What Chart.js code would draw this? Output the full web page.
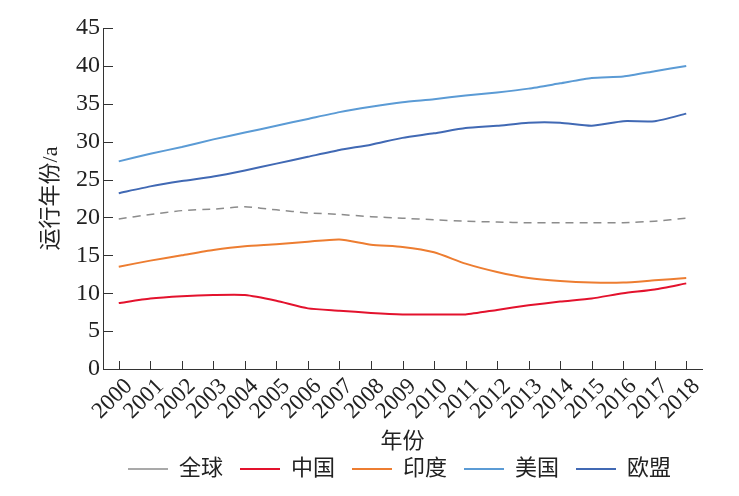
<!DOCTYPE html>
<html>
<head>
<meta charset="utf-8">
<script src="https://cdn.jsdelivr.net/npm/chart.js@4.4.1/dist/chart.umd.min.js"></script>
<style>
  html, body { margin: 0; padding: 0; background: #fff; }
  #chart { display: block; }
</style>
</head>
<body>
<canvas id="chart" width="739" height="496"></canvas>
<script>
// Data
const years = ['2000','2001','2002','2003','2004','2005','2006','2007','2008','2009',
               '2010','2011','2012','2013','2014','2015','2016','2017','2018'];
const yTicks = [0, 5, 10, 15, 20, 25, 30, 35, 40, 45];

const globalYears = [19.8, 20.4, 20.9, 21.1, 21.4, 21.0, 20.6, 20.4, 20.1, 19.9,
                     19.7, 19.5, 19.4, 19.3, 19.3, 19.3, 19.3, 19.5, 19.9];
const chinaYears  = [8.7, 9.3, 9.6, 9.75, 9.75, 9.0, 8.0, 7.7, 7.4, 7.2,
                     7.2, 7.2, 7.8, 8.4, 8.9, 9.3, 10.0, 10.5, 11.3];
const indiaYears  = [13.5, 14.3, 15.0, 15.7, 16.2, 16.45, 16.8, 17.1, 16.4, 16.1,
                     15.4, 13.9, 12.8, 12.0, 11.6, 11.4, 11.4, 11.7, 12.0];
const usaYears    = [27.4, 28.4, 29.3, 30.3, 31.2, 32.1, 33.0, 33.9, 34.6, 35.2,
                     35.6, 36.1, 36.5, 37.0, 37.7, 38.4, 38.6, 39.3, 40.0];
const euYears     = [23.2, 24.1, 24.8, 25.4, 26.2, 27.1, 28.0, 28.9, 29.6, 30.5,
                     31.1, 31.8, 32.1, 32.5, 32.5, 32.1, 32.7, 32.7, 33.7];

const FONT = '"Liberation Serif", "Noto Sans CJK SC", serif';
const AXIS_COLOR = '#333';
const TEXT_COLOR = '#222';

// ticks drawn inward from the axes
const innerTicks = {
    id: 'innerTicks',
    afterDraw(chart) {
        const { ctx, scales: { x, y }, chartArea } = chart;
        ctx.save();
        ctx.strokeStyle = AXIS_COLOR;
        ctx.lineWidth = 1;
        ctx.beginPath();
        y.ticks.forEach((t, i) => {
            const py = Math.round(y.getPixelForTick(i)) + 0.5;
            ctx.moveTo(chartArea.left, py);
            ctx.lineTo(chartArea.left + 10, py);
        });
        x.ticks.forEach((t, i) => {
            const px = Math.round(x.getPixelForTick(i)) + 0.5;
            ctx.moveTo(px, chartArea.bottom);
            ctx.lineTo(px, chartArea.bottom - 8);
        });
        ctx.stroke();
        ctx.restore();
    }
};

// centre the legend under the plot area rather than the whole canvas
const legendUnderPlot = {
    id: 'legendUnderPlot',
    afterLayout(chart) {
        const lg = chart.legend;
        if (!lg) return;
        lg.left = chart.chartArea.left;
        lg.right = chart.chartArea.right - 6;
    }
};

function series(label, data, color, dash) {
    return {
        label: label,
        data: data,
        borderColor: color,
        backgroundColor: color,
        borderWidth: dash ? 1.5 : 2,
        borderDash: dash || [],
        pointRadius: 0,
        pointStyle: 'line',
        tension: 0.2,
        fill: false
    };
}

function draw() {
    new Chart(document.getElementById('chart'), {
        type: 'line',
        data: {
            labels: years,
            datasets: [
                series('全球', globalYears, '#8c8c8c', [8, 6]),
                series('中国', chinaYears, '#e3122d'),
                series('印度', indiaYears, '#ed7d31'),
                series('美国', usaYears, '#5b9bd5'),
                series('欧盟', euYears, '#4169b4')
            ]
        },
        options: {
            responsive: false,
            animation: false,
            layout: { padding: { left: 0, right: 37, top: 28, bottom: 6 } },
            plugins: {
                legend: {
                    position: 'bottom',
                    labels: {
                        usePointStyle: true,
                        pointStyleWidth: 40,
                        boxHeight: 20,
                        padding: 17,
                        color: TEXT_COLOR,
                        font: { family: FONT, size: 22 }
                    }
                },
                tooltip: { enabled: false }
            },
            scales: {
                x: {
                    offset: true,
                    grid: { display: false, drawTicks: false },
                    border: { display: true, color: AXIS_COLOR, width: 1 },
                    ticks: {
                        color: TEXT_COLOR,
                        font: { family: FONT, size: 23 },
                        maxRotation: 45,
                        minRotation: 45,
                        padding: 4,
                        labelOffset: 10,
                        autoSkip: false
                    },
                    title: {
                        display: true,
                        text: '年份',
                        color: TEXT_COLOR,
                        font: { family: FONT, size: 22 },
                        padding: { top: 0, bottom: -14 }
                    },
                    afterFit: s => { s.height = 72; }
                },
                y: {
                    min: 0,
                    max: 45,
                    afterBuildTicks: s => { s.ticks = yTicks.map(v => ({ value: v })); },
                    grid: { display: false, drawTicks: false },
                    border: { display: true, color: AXIS_COLOR, width: 1 },
                    ticks: {
                        color: TEXT_COLOR,
                        font: { family: FONT, size: 24 },
                        padding: 3
                    },
                    title: {
                        display: true,
                        text: '运行年份/a',
                        color: TEXT_COLOR,
                        font: { family: FONT, size: 22 },
                        padding: { top: 38, bottom: 0 }
                    },
                    afterFit: s => { s.width = 103; }
                }
            }
        },
        plugins: [innerTicks, legendUnderPlot]
    });
}

Promise.all([
    document.fonts.load('21px "Liberation Serif"', '2000'),
    document.fonts.load('22px "Noto Sans CJK SC"', '运行年份全球中国印度美欧盟')
]).then(draw, draw);
</script>
</body>
</html>
